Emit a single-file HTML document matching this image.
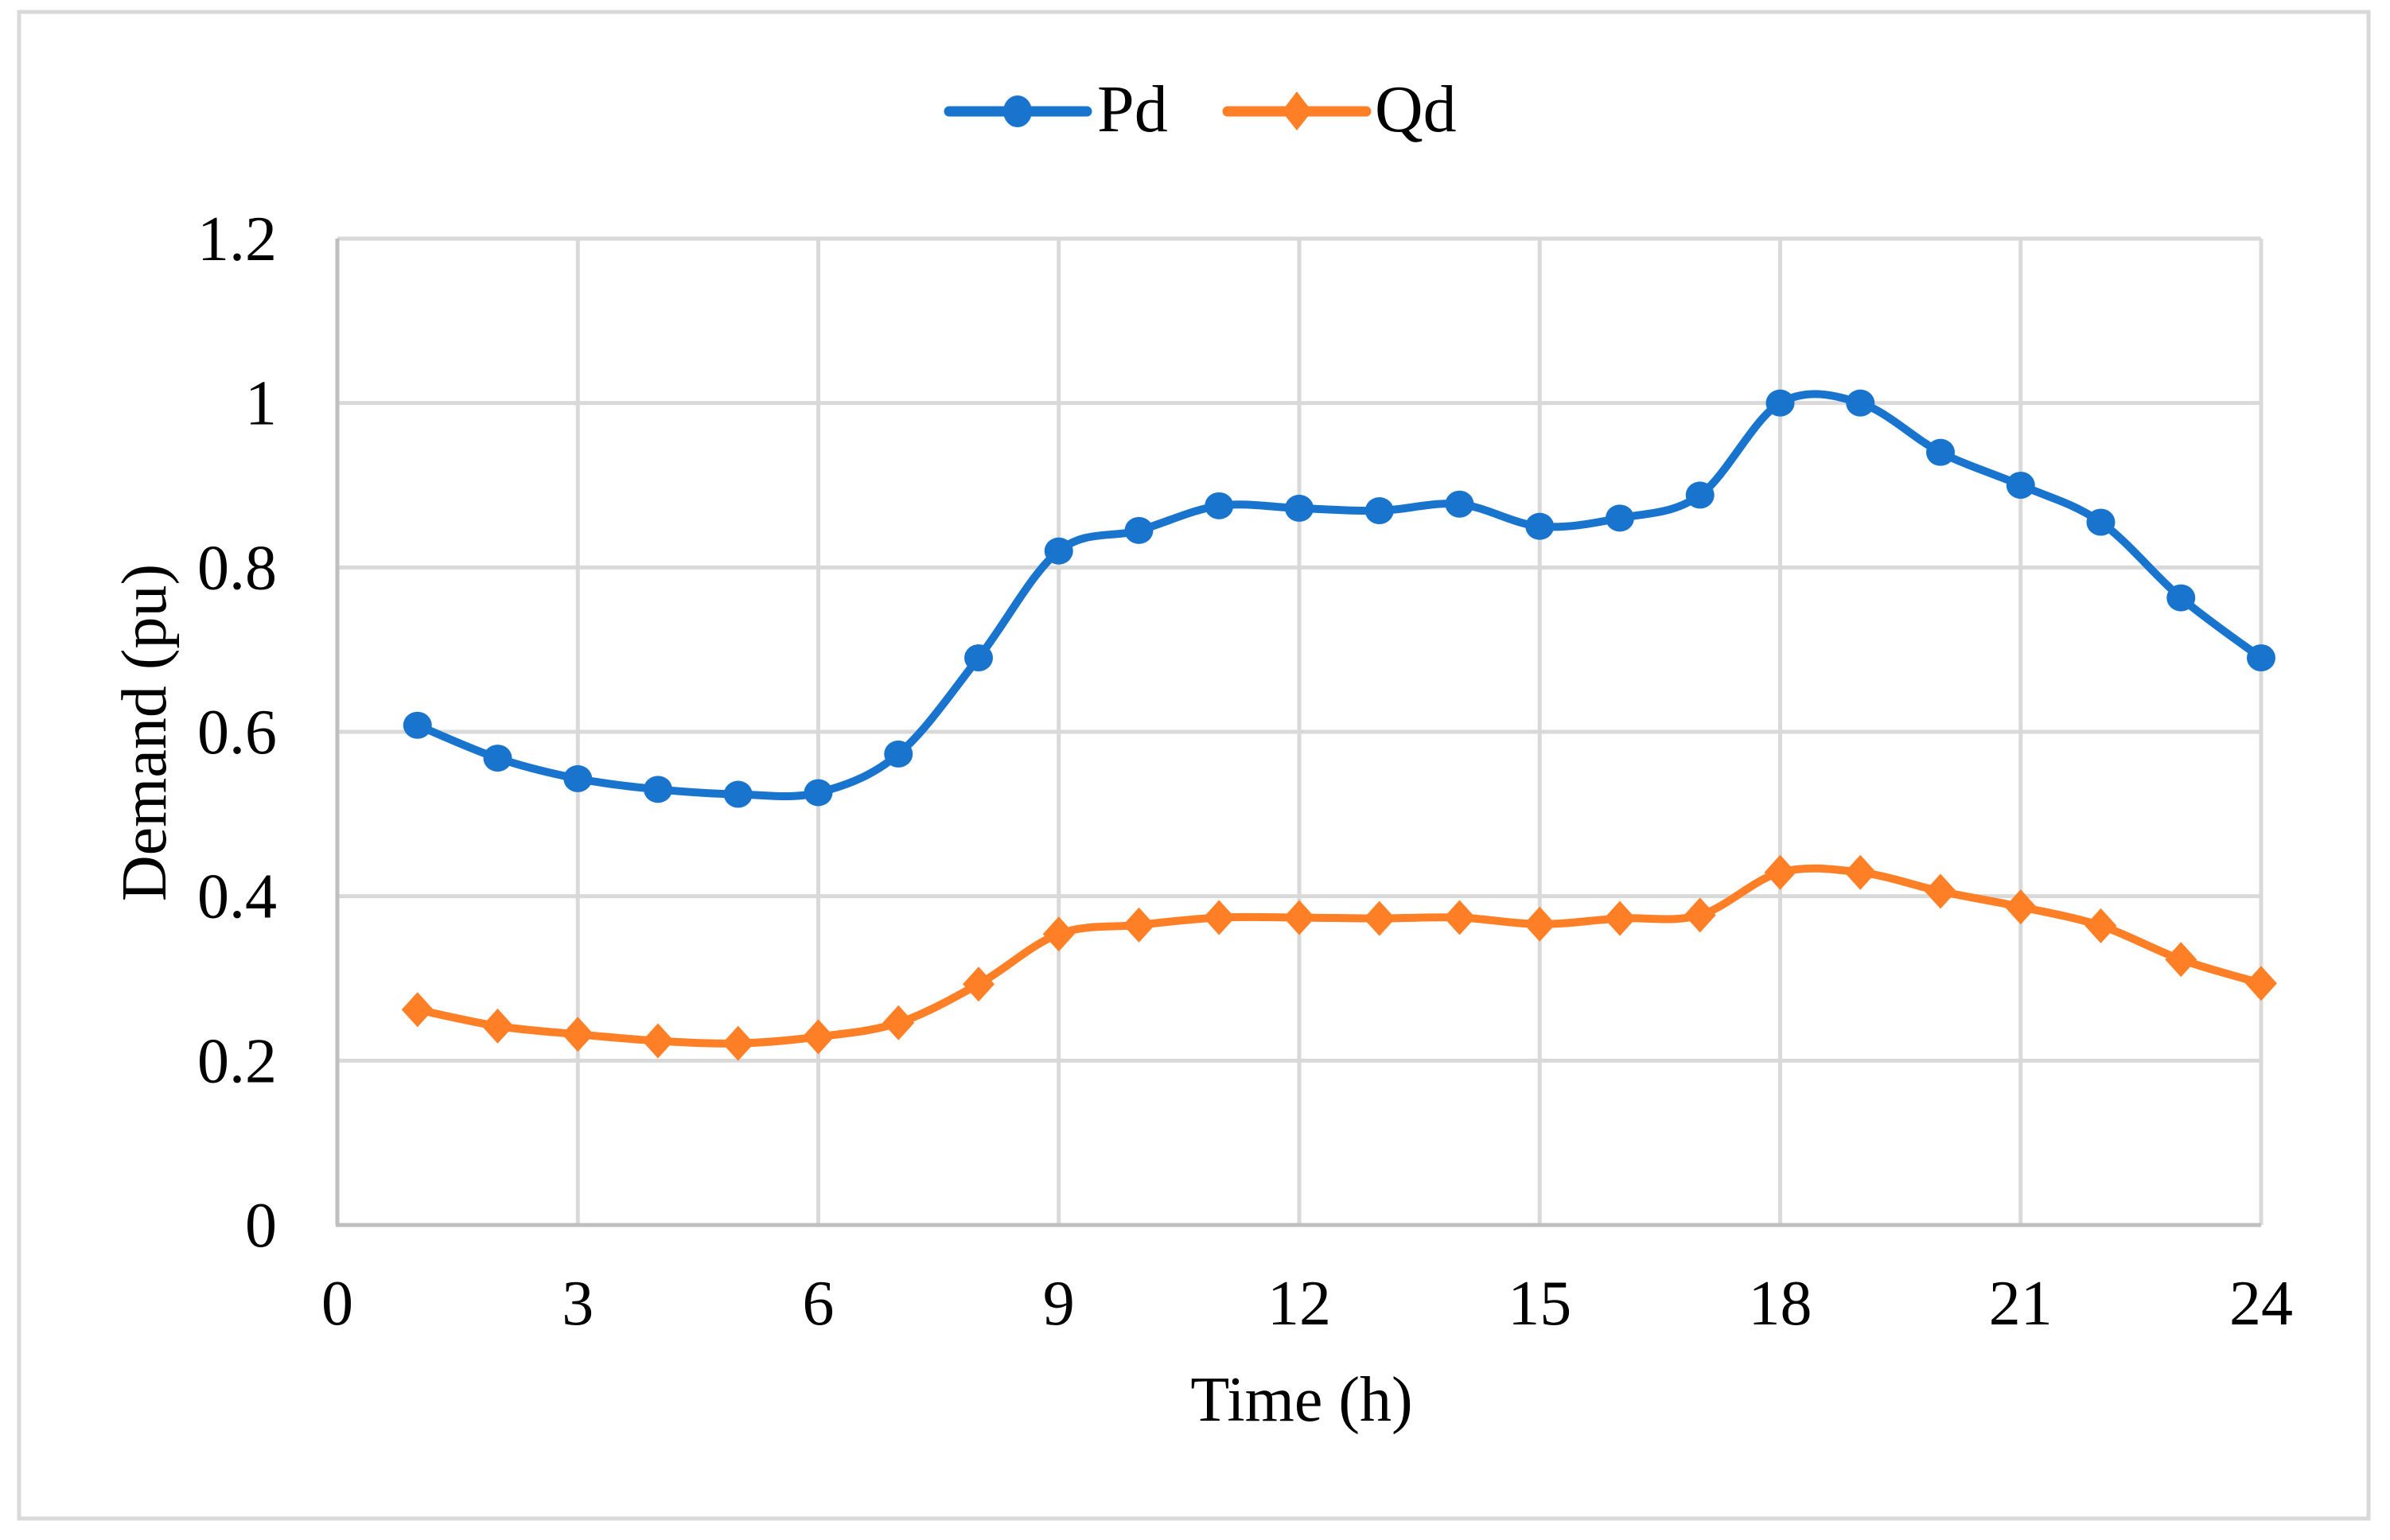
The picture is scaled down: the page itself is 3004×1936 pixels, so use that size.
<!DOCTYPE html>
<html><head><meta charset="utf-8"><style>
html,body{margin:0;padding:0;background:#fff;}
svg text{font-family:"Liberation Serif",serif;fill:#000;}
</style></head><body>
<svg width="3004" height="1931" viewBox="0 0 3004 1931" xmlns="http://www.w3.org/2000/svg">
<rect x="24" y="15" width="2953" height="1894" fill="#fff" stroke="#d9d9d9" stroke-width="5"/>
<g id="grid"></g>
<g id="axes"></g>
<g id="series"></g>
<g>
 <g>
  <line x1="1193" y1="140" x2="1366" y2="140" stroke="#1874CD" stroke-width="13" stroke-linecap="round"/>
  <ellipse cx="1279" cy="140" rx="18" ry="20" fill="#1874CD"/>
  <text x="1379" y="165" font-size="84">Pd</text>
 </g>
 <g>
  <line x1="1543" y1="140" x2="1717" y2="140" stroke="#FF7F27" stroke-width="13" stroke-linecap="round"/>
  <polygon points="1630,115 1649,140 1630,164 1611,140" fill="#FF7F27"/>
  <text x="1728" y="165" font-size="84">Qd</text>
 </g>
</g>
<text x="1636" y="1786" font-size="80" text-anchor="middle">Time (h)</text>
<text transform="translate(208,921) rotate(-90)" font-size="80" text-anchor="middle">Demand (pu)</text>
</svg>
<script>
const hours=[1,2,3,4,5,6,7,8,9,10,11,12,13,14,15,16,17,18,19,20,21,22,23,24];
const pdValues=[0.608,0.568,0.543,0.530,0.524,0.526,0.573,0.690,0.820,0.845,0.875,0.872,0.869,0.877,0.850,0.860,0.888,1.0,1.0,0.940,0.900,0.855,0.763,0.690];
const qdValues=[0.262,0.242,0.232,0.224,0.221,0.229,0.246,0.293,0.354,0.365,0.374,0.374,0.373,0.374,0.366,0.373,0.377,0.429,0.429,0.406,0.387,0.364,0.323,0.294];
const xTicks=[0,3,6,9,12,15,18,21,24];
const yTicks=[0,0.2,0.4,0.6,0.8,1,1.2];
const yTickLabels=["0","0.2","0.4","0.6","0.8","1","1.2"];

const X0=424,X1=2842,Y0=1540,Y1=300;
const xs=v=>X0+(v-0)/(24-0)*(X1-X0);
const ys=v=>Y0-(v-0)/(1.2-0)*(Y0-Y1);
const NS="http://www.w3.org/2000/svg";
function mk(tag,attrs,parent){const e=document.createElementNS(NS,tag);for(const k in attrs)e.setAttribute(k,attrs[k]);parent.appendChild(e);return e;}
const grid=document.getElementById('grid'),axes=document.getElementById('axes'),series=document.getElementById('series');
yTicks.forEach((t,i)=>{
  if(t>0){const l=mk('line',{x1:X0,x2:X1,y1:ys(t),y2:ys(t),stroke:'#d9d9d9','stroke-width':5},grid);
  
  }
  const tx=mk('text',{x:348,y:ys(t)+27,'font-size':80,'text-anchor':'end'},axes);
  tx.textContent=yTickLabels[i];
  
  
});
xTicks.forEach(t=>{
  if(t>0){const l=mk('line',{x1:xs(t),x2:xs(t),y1:Y1,y2:Y0,stroke:'#d9d9d9','stroke-width':5},grid);
  
  }
  const tx=mk('text',{x:xs(t),y:1665,'font-size':80,'text-anchor':'middle'},axes);
  tx.textContent=String(t);
  
  
});
const ax=mk('line',{x1:X0,x2:X0,y1:Y1,y2:Y0,stroke:'#bfbfbf','stroke-width':5},axes);


const bx=mk('line',{x1:X0-2,x2:X1,y1:Y0,y2:Y0,stroke:'#bfbfbf','stroke-width':5},axes);



function smooth(pts){
  let d=`M${pts[0][0]},${pts[0][1]}`;
  for(let i=0;i<pts.length-1;i++){
    const p0=pts[Math.max(i-1,0)],p1=pts[i],p2=pts[i+1],p3=pts[Math.min(i+2,pts.length-1)];
    const c1=[p1[0]+(p2[0]-p0[0])/6,p1[1]+(p2[1]-p0[1])/6];
    const c2=[p2[0]-(p3[0]-p1[0])/6,p2[1]-(p3[1]-p1[1])/6];
    d+=` C${c1[0]},${c1[1]} ${c2[0]},${c2[1]} ${p2[0]},${p2[1]}`;
  }
  return d;
}
function drawSeries(vals,color,name,marker){
  const pts=hours.map((h,i)=>[xs(h),ys(vals[i])]);
  const p=mk('path',{d:smooth(pts),fill:'none',stroke:color,'stroke-width':10,'stroke-linejoin':'round'},series);
  
  
  pts.forEach(([x,y])=>{
    let m;
    if(marker==='circle') m=mk('ellipse',{cx:x,cy:y,rx:18,ry:17,fill:color},series);
    else m=mk('polygon',{points:`${x},${y-22} ${x+20},${y} ${x},${y+22} ${x-20},${y}`,fill:color},series);
    
    
  });
}
drawSeries(pdValues,'#1874CD','pd','circle');
drawSeries(qdValues,'#FF7F27','qd','diamond');
</script>
</body></html>
